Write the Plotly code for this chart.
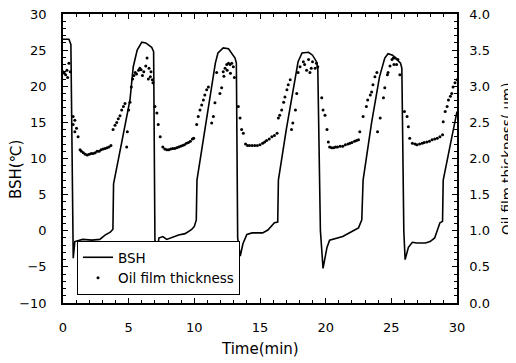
import plotly.graph_objects as go

# ---------------- data ----------------
bsh_time = [0.0, 0.45, 0.6, 0.7, 0.78, 0.9, 1.5, 2.2, 2.8, 3.2, 3.6, 3.8, 3.85, 4.5, 5.1, 5.35, 5.65,
            6.0, 6.3, 6.75, 6.9, 7.0, 7.15, 7.3, 7.6, 7.9, 8.3, 8.8, 9.3, 9.8, 10.0, 10.15, 10.2, 11.0,
            11.6, 11.8, 12.2, 12.6, 13.1, 13.2, 13.3, 13.5, 13.7, 14.0, 14.4, 15.2, 15.6, 16.1, 16.35,
            16.4, 17.0, 17.7, 17.9, 18.2, 18.7, 19.0, 19.3, 19.4, 19.6, 19.8, 20.1, 20.3, 20.9, 21.3,
            22.1, 22.5, 22.75, 22.85, 23.5, 24.1, 24.5, 24.75, 25.1, 25.5, 25.7, 25.8, 25.95, 26.05,
            26.3, 26.6, 26.95, 27.6, 27.95, 28.3, 28.7, 28.9, 28.95, 29.5, 30.0]
bsh_value = [26.5, 26.5, 25.8, 10.0, -3.8, -1.5, -1.2, -1.3, -1.2, -0.6, -0.2, 0.2, 6.5, 12.5, 18.1, 22.7, 25.0,
             26.1, 26.0, 25.4, 24.8, -1.3, -3.5, -1.0, -0.8, -1.2, -0.9, -0.6, -0.4, 0.2, 0.6, 1.5, 7.0, 16.0,
             23.2, 24.6, 25.3, 25.2, 23.9, 23.2, -1.0, -3.5, -1.8, -0.5, -0.3, -0.3, 0.1, 1.1, 1.2,
             7.0, 14.0, 21.3, 23.4, 24.6, 24.7, 24.3, 23.4, 22.5, 0.0, -5.2, -2.3, -1.3, -1.0, -0.8,
             0.0, 0.4, 1.5, 7.0, 15.0, 21.3, 23.9, 24.5, 24.3, 23.6, 23.2, 22.5, 0.0, -4.0,
             -2.3, -1.6, -1.7, -1.7, -1.5, -1.0, 1.1, 1.3, 7.0, 12.0, 16.5]

oil_time = [0.0, 0.1, 0.2, 0.3, 0.35, 0.45, 0.55,
            0.77, 0.77, 0.9, 0.9, 1.03, 1.15, 1.3,
            1.4, 1.55, 1.7, 1.85, 2.0, 2.15, 2.3, 2.45, 2.6, 2.75, 2.9, 3.05, 3.2, 3.35, 3.5, 3.65,
            3.81, 3.96, 4.09, 4.21, 4.34, 4.47, 4.6, 4.72,
            4.85, 4.9, 5.0, 5.1, 5.2, 5.3, 5.4, 5.5, 5.6, 5.75, 5.85, 5.95, 6.05, 6.15, 6.3, 6.4,
            6.5, 6.55, 6.65, 6.7, 6.8, 6.85,
            7.0, 7.15, 7.25, 7.4,
            7.6, 7.75, 7.9, 8.05, 8.2, 8.35, 8.5, 8.65, 8.8, 8.95, 9.1, 9.25, 9.4, 9.55, 9.7, 9.85, 9.95,
            10.18, 10.3, 10.43, 10.56, 10.69, 10.8, 10.94, 11.07,
            11.32, 11.45, 11.57, 11.7, 11.95, 12.08, 12.2, 12.34, 12.47, 12.6, 12.72, 12.85, 12.97,
            12.25, 12.5, 12.75, 13.05,
            13.35, 13.48, 13.6, 13.73,
            13.9, 14.05, 14.2, 14.4, 14.6, 14.8, 15.0, 15.2, 15.35, 15.5, 15.7, 15.9, 16.1, 16.3,
            16.4, 16.5, 16.65, 16.8, 16.9, 17.05, 17.15, 17.3,
            17.4, 17.5, 17.7, 17.8, 17.9, 18.05, 18.3, 18.4, 18.55, 18.7, 18.8, 18.9, 19.0, 19.2, 19.3, 19.4,
            19.7, 19.8, 19.95, 20.1,
            20.2, 20.3, 20.45, 20.6, 20.75, 20.9, 21.1, 21.3, 21.5, 21.7, 21.85, 22.0, 22.2, 22.35, 22.5,
            22.6, 22.85, 23.1, 23.2, 23.4, 23.5, 23.6, 23.75, 23.9,
            23.95, 24.15, 24.4, 24.5, 24.7, 24.75, 24.9, 25.05, 25.15, 25.3, 25.4, 25.5, 25.65, 25.2,
            26.0, 26.2, 26.3, 26.4,
            26.6, 26.8, 26.95, 27.15, 27.35, 27.5, 27.7, 27.9, 28.1, 28.3, 28.5, 28.7, 28.9,
            28.95, 29.1, 29.25, 29.35, 29.5, 29.6, 29.7, 29.85, 30.0]
oil_value = [3.20, 3.18, 3.16, 3.22, 3.12, 3.32, 3.20,
             2.58, 2.47, 2.53, 2.37, 2.42, 2.30, 2.12,
             2.10, 2.08, 2.06, 2.05, 2.06, 2.07, 2.07, 2.08, 2.10, 2.10, 2.12, 2.13, 2.14, 2.15, 2.16, 2.18,
             2.40, 2.46, 2.50, 2.55, 2.59, 2.67, 2.72, 2.76,
             2.16, 2.37, 2.67, 2.78, 2.99, 3.10, 3.15, 3.19, 3.17, 3.22, 3.25, 3.23, 3.15, 3.20, 3.28, 3.39,
             3.10, 3.25, 3.13, 3.20, 3.09, 3.05,
             2.72, 2.63, 2.47, 2.30,
             2.16, 2.13, 2.12, 2.12, 2.13, 2.14, 2.14, 2.15, 2.16, 2.17, 2.18, 2.19, 2.21, 2.22, 2.24, 2.27, 2.28,
             2.47, 2.58, 2.67, 2.74, 2.81, 2.88, 2.95, 2.99,
             2.49, 2.58, 2.77, 3.19, 2.90, 2.98, 3.20, 3.25, 3.30, 3.32, 3.30, 3.32, 3.27,
             3.14, 3.22, 3.18, 3.12,
             2.72, 2.56, 2.40, 2.35,
             2.20, 2.18, 2.18, 2.18, 2.18, 2.18, 2.19, 2.21, 2.23, 2.25, 2.27, 2.30, 2.32, 2.35,
             2.56, 2.60, 2.67, 2.78, 2.85, 2.95, 3.02, 3.09,
             2.40, 2.49, 2.67, 2.90, 3.19, 3.27, 3.34, 3.30, 3.22, 3.37, 3.19, 3.25, 3.34, 3.25, 3.32, 3.27,
             2.84, 2.67, 2.60, 2.40,
             2.23, 2.16, 2.15, 2.15, 2.16, 2.16, 2.17, 2.17, 2.19, 2.20, 2.21, 2.22, 2.24, 2.25, 2.26,
             2.37, 2.58, 2.72, 2.81, 2.88, 2.92, 3.02, 3.13, 3.19,
             2.37, 2.56, 2.84, 2.98, 3.16, 3.19, 3.28, 3.37, 3.39, 3.39, 3.30, 3.37, 3.16, 3.30,
             2.65, 2.58, 2.44, 2.28,
             2.21, 2.20, 2.19, 2.20, 2.21, 2.22, 2.23, 2.24, 2.26, 2.27, 2.28, 2.30, 2.33,
             2.51, 2.65, 2.72, 2.81, 2.86, 2.90, 2.99, 3.05, 3.09]

x_ticks = [0, 5, 10, 15, 20, 25, 30]
y_ticks = [-10, -5, 0, 5, 10, 15, 20, 25, 30]
y2_ticks = [0.0, 0.5, 1.0, 1.5, 2.0, 2.5, 3.0, 3.5, 4.0]

FONT = "DejaVu Sans"
OFF = 8                       # default page margin of the html body
W, H = 516 - OFF, 363 - OFF
L, R, T, B = 63 - OFF, 457 - OFF, 14 - OFF, 303 - OFF   # plot box in figure pixels
PW, PH = R - L, B - T


def px(xp):   # page x -> paper x
    return (xp - OFF - L) / PW


def py(yp):   # page y -> paper y
    return (B - (yp - OFF)) / PH


fig = go.Figure()
fig.add_trace(go.Scatter(x=bsh_time, y=bsh_value, mode="lines", name="BSH",
                         line=dict(color="black", width=1.6)))
fig.add_trace(go.Scatter(x=oil_time, y=oil_value, mode="markers", name="Oil film thickness",
                         yaxis="y2", marker=dict(color="black", size=3)))

axis_common = dict(showline=True, linecolor="black", linewidth=1.5, ticks="inside",
                   tickcolor="black", ticklen=5, tickwidth=1.2, showgrid=False, zeroline=False,
                   automargin=False, ticklabeloverflow="allow",
                   tickfont=dict(family=FONT, size=13, color="black"))

fig.update_layout(
    width=W, height=H,
    margin=dict(l=L, r=W - R, t=T, b=H - B),
    paper_bgcolor="white", plot_bgcolor="white",
    font=dict(family=FONT, color="black"),
    xaxis=dict(range=[0, 30], tickvals=x_ticks, mirror="ticks",
               minor=dict(dtick=1, ticks="inside", ticklen=3, tickcolor="black"),
               ticklabelstandoff=12,
               **axis_common),
    yaxis=dict(range=[-10, 30], tickvals=y_ticks,
               minor=dict(dtick=1, ticks="inside", ticklen=3, tickcolor="black"),
               ticklabelstandoff=12,
               **axis_common),
    yaxis2=dict(range=[0, 4], tickvals=y2_ticks, tickformat=".1f", overlaying="y", side="right",
                minor=dict(dtick=0.1, ticks="inside", ticklen=3, tickcolor="black"),
                ticklabelstandoff=8,
                **axis_common),
    legend=dict(x=px(77), y=py(241), xanchor="left", yanchor="top",
                bgcolor="white", bordercolor="black", borderwidth=1,
                font=dict(family=FONT, size=13.5, color="black"), itemwidth=30,
                tracegroupgap=0),
    showlegend=True,
    annotations=[
        dict(text="Time(min)", xref="paper", yref="paper",
             x=px(260), y=py(349), showarrow=False,
             xanchor="center", yanchor="middle",
             font=dict(family=FONT, size=15, color="black")),
        dict(text="BSH(℃)", xref="paper", yref="paper",
             x=px(16), y=py(170), textangle=-90, showarrow=False,
             xanchor="center", yanchor="middle",
             font=dict(family=FONT, size=15, color="black")),
        dict(text="Oil film thickness( μm)", xref="paper", yref="paper",
             x=px(507), y=py(159), textangle=-90, showarrow=False,
             xanchor="center", yanchor="middle",
             font=dict(family=FONT, size=13.5, color="black")),
    ],
)

fig.write_html("out.html")
